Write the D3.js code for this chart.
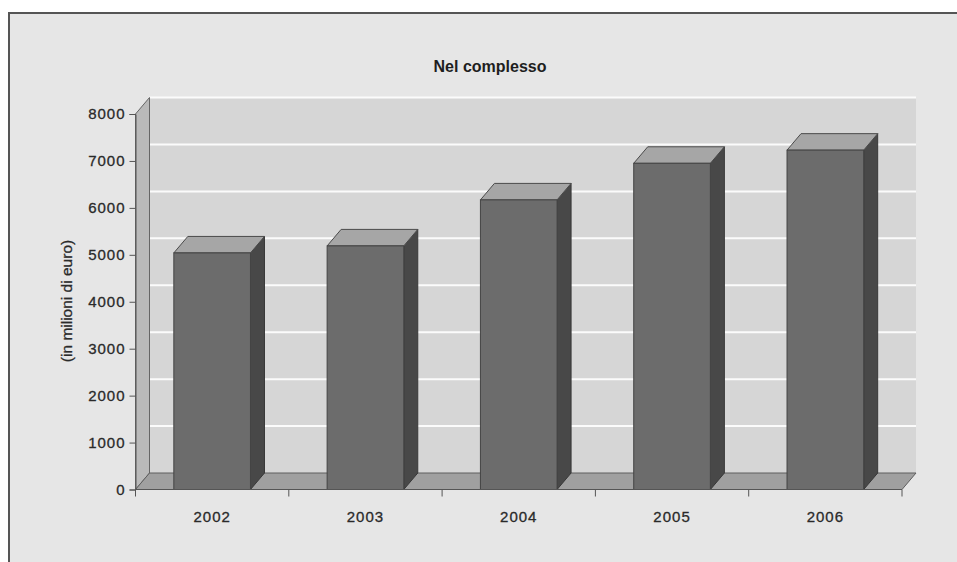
<!DOCTYPE html>
<html>
<head>
<meta charset="utf-8">
<script src="https://cdn.jsdelivr.net/npm/d3@7"></script>
<style>
  html, body { margin: 0; padding: 0; background: #fff; }
  svg { display: block; font-family: "Liberation Sans", Arial, sans-serif; }
</style>
</head>
<body>
<svg id="chart" width="957" height="562"></svg>
<script>
// Spending per year, millions of euro
const years = ["2002", "2003", "2004", "2005", "2006"];
const values = [5040, 5190, 6170, 6950, 7230];
const yTicks = [0, 1000, 2000, 3000, 4000, 5000, 6000, 7000, 8000];
const chartTitle = "Nel complesso";
const yTitle = "(in milioni di euro)";

const svg = d3.select("#chart");

// panel with dark frame
svg.append("rect").attr("x", 9).attr("y", 13).attr("width", 960).attr("height", 560)
  .attr("fill", "#e6e6e6").attr("stroke", "#555").attr("stroke-width", 2);

const y = d3.scaleLinear().domain([0, 8000]).range([489.5, 114]);
const x = d3.scaleBand().domain(years).range([135.5, 902]).paddingInner(0.5).paddingOuter(0.25);

// depth of the 3D box
const dx = 14, dy = -16.5;
const x0 = 135.5, x1 = 902;

// back wall
svg.append("rect")
  .attr("x", x0 + dx).attr("y", y(8000) + dy)
  .attr("width", x1 - x0).attr("height", y(0) - y(8000))
  .attr("fill", "#d6d6d6");

// gridlines on back wall
svg.append("g").selectAll("line").data(yTicks.filter(d => d > 0)).join("line")
  .attr("x1", x0 + dx).attr("x2", x1 + dx)
  .attr("y1", d => y(d) + dy).attr("y2", d => y(d) + dy)
  .attr("stroke", "#fbfbfb").attr("stroke-width", 2);

// left side wall
const pts = a => a.map(p => p.join(",")).join(" ");
svg.append("polygon")
  .attr("points", pts([[x0, y(0)], [x0, y(8000)], [x0 + dx, y(8000) + dy], [x0 + dx, y(0) + dy]]))
  .attr("fill", "#bababa").attr("stroke", "#666").attr("stroke-width", 1);

// floor
svg.append("polygon")
  .attr("points", pts([[x0, y(0)], [x0 + dx, y(0) + dy], [x1 + dx, y(0) + dy], [x1, y(0)]]))
  .attr("fill", "#a0a0a0").attr("stroke", "#5e5e5e").attr("stroke-width", 1);

// bars
const bw = x.bandwidth();
const bars = svg.append("g").selectAll("g").data(years.map((k, i) => ({ k, v: values[i] }))).join("g");
bars.append("polygon") // side
  .attr("points", d => { const L = x(d.k) + bw; return pts([[L, y(0)], [L, y(d.v)], [L + dx, y(d.v) + dy], [L + dx, y(0) + dy]]); })
  .attr("fill", "#484848").attr("stroke", "#383838").attr("stroke-width", 1);
bars.append("polygon") // top
  .attr("points", d => { const L = x(d.k); return pts([[L, y(d.v)], [L + dx, y(d.v) + dy], [L + bw + dx, y(d.v) + dy], [L + bw, y(d.v)]]); })
  .attr("fill", "#a6a6a6").attr("stroke", "#4a4a4a").attr("stroke-width", 1);
bars.append("rect") // front
  .attr("x", d => x(d.k)).attr("y", d => y(d.v))
  .attr("width", bw).attr("height", d => y(0) - y(d.v))
  .attr("fill", "#6c6c6c").attr("stroke", "#444").attr("stroke-width", 1);

// text styling shared by axis labels
const labelStyle = sel => sel.attr("fill", "#2a2a2a").attr("stroke", "#2a2a2a").attr("stroke-width", 0.3)
  .style("font-size", "15px").style("letter-spacing", "1px");

// y axis
const yAxis = d3.axisLeft(y).tickValues(yTicks).tickSize(6).tickPadding(4).tickFormat(d3.format("d"));
const gy = svg.append("g").attr("transform", `translate(${x0},0)`).call(yAxis);
gy.select(".domain").attr("stroke", "#555");
gy.selectAll(".tick line").attr("stroke", "#555");
gy.selectAll(".tick text").call(labelStyle);

// x axis: ticks at category boundaries
const boundaries = years.map(k => x(k) - x.step() * 0.25).concat([x1]);
svg.append("line").attr("x1", x0).attr("x2", x1).attr("y1", y(0)).attr("y2", y(0)).attr("stroke", "#555");
svg.append("g").selectAll("line").data(boundaries).join("line")
  .attr("x1", d => d).attr("x2", d => d).attr("y1", y(0)).attr("y2", y(0) + 7)
  .attr("stroke", "#555");
svg.append("g").selectAll("text").data(years).join("text")
  .attr("x", d => x(d) + bw / 2).attr("y", 522)
  .attr("text-anchor", "middle")
  .call(labelStyle)
  .text(d => d);

// titles
svg.append("text").attr("x", 490).attr("y", 72).attr("text-anchor", "middle")
  .attr("fill", "#1e1e1e").style("font-size", "16px").style("font-weight", "bold")
  .text(chartTitle);
svg.append("text").attr("transform", "translate(72,301) rotate(-90)")
  .attr("text-anchor", "middle").attr("fill", "#2a2a2a").attr("stroke", "#2a2a2a").attr("stroke-width", 0.3)
  .style("font-size", "15.5px")
  .text(yTitle);
</script>
</body>
</html>
